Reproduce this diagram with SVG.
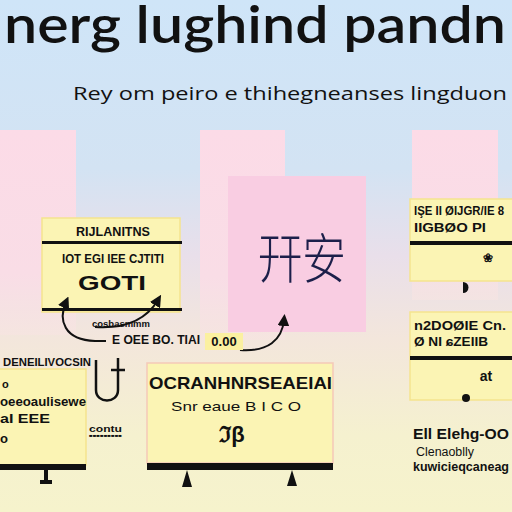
<svg xmlns="http://www.w3.org/2000/svg" width="512" height="512" viewBox="0 0 512 512">
<defs>
<linearGradient id="bg" x1="0" y1="0" x2="0" y2="1">
<stop offset="0" stop-color="#cfe5f8"/>
<stop offset="0.33" stop-color="#d3e3f3"/>
<stop offset="0.5" stop-color="#e9dfea"/>
<stop offset="0.66" stop-color="#f3e6dc"/>
<stop offset="0.85" stop-color="#f5f1cf"/>
<stop offset="1" stop-color="#f6f3cc"/>
</linearGradient>
<linearGradient id="col" x1="0" y1="0" x2="0" y2="1">
<stop offset="0" stop-color="#fcdbe7"/>
<stop offset="0.7" stop-color="#f9dde6"/>
<stop offset="1" stop-color="#f7e4e2" stop-opacity="0.6"/>
</linearGradient>
<marker id="ah" viewBox="0 0 10 10" refX="5" refY="5" markerWidth="6" markerHeight="6" orient="auto-start-reverse">
<path d="M0,0 L10,5 L0,10 z" fill="#111"/>
</marker>
<style>
.t{font-family:"Liberation Sans",Arial,sans-serif;fill:#111;font-weight:bold}
.n{font-family:"Liberation Sans",Arial,sans-serif;fill:#111}
.box{fill:#fbf4b4;stroke:#f5e48e;stroke-width:1.5}
.bar{fill:#111}
.ln{fill:none;stroke:#111;stroke-width:2}
</style>
</defs>
<rect width="512" height="512" fill="url(#bg)"/>
<!-- pink columns -->
<rect x="0" y="130" width="76" height="205" fill="url(#col)"/>
<rect x="200" y="130" width="85" height="210" fill="url(#col)"/>
<rect x="412" y="130" width="86" height="170" fill="url(#col)"/>

<text x="4" y="43" font-family="Lato,'Open Sans',sans-serif" font-size="52" font-weight="600" fill="#111" textLength="502" lengthAdjust="spacingAndGlyphs">nerg lughind pandn</text>
<text x="73" y="100" font-family="'Open Sans',Lato,sans-serif" font-size="19" fill="#111" textLength="434" lengthAdjust="spacingAndGlyphs">Rey om peiro e thihegneanses lingduon</text>

<g id="node-center">
<rect x="228" y="176" width="138" height="156" fill="#f9cde2"/>
<text x="258" y="279" font-family="'Noto Sans CJK SC',sans-serif" font-size="54" font-weight="300" fill="#1c1f4a" textLength="88" lengthAdjust="spacingAndGlyphs">幵安</text>
</g>

<g id="node-left">
<rect class="box" x="42" y="218" width="138" height="94"/>
<rect class="bar" x="42" y="241" width="140" height="3"/>
<rect class="bar" x="42" y="308" width="140" height="3"/>
<text class="t" x="76" y="236" font-size="13" textLength="74" lengthAdjust="spacingAndGlyphs">RIJLANITNS</text>
<text class="t" x="62" y="263" font-size="12" textLength="102" lengthAdjust="spacingAndGlyphs">IOT EGI IEE CJTITI</text>
<text class="t" x="78" y="290" font-size="21" textLength="68" lengthAdjust="spacingAndGlyphs">GOTI</text>
</g>

<g id="node-right-top">
<rect class="box" x="410" y="199" width="104" height="82"/>
<rect class="bar" x="410" y="241" width="104" height="4"/>
<text class="t" x="414" y="215" font-size="13" textLength="90" lengthAdjust="spacingAndGlyphs">IŞE II ØIJGR/IE 8</text>
<text class="t" x="414" y="232" font-size="12" textLength="72" lengthAdjust="spacingAndGlyphs">IIGBØO PI</text>
<text class="t" x="488" y="262" font-size="12" text-anchor="middle">❀</text>
<path d="M463,282 a5,5 0 0 1 0,11 z" fill="#111"/>
</g>

<g id="node-right-mid">
<rect class="box" x="410" y="312" width="104" height="88"/>
<rect class="bar" x="410" y="356" width="104" height="4"/>
<text class="t" x="414" y="330" font-size="13" textLength="92" lengthAdjust="spacingAndGlyphs">n2DOØIE Cn.</text>
<text class="t" x="414" y="346" font-size="12" textLength="74" lengthAdjust="spacingAndGlyphs">Ø NI ɕZEIIB</text>
<text class="t" x="486" y="381" font-size="14" text-anchor="middle">at</text>
<circle cx="466" cy="398" r="4" fill="#111"/>
</g>

<g id="text-right-bottom">
<text class="t" x="413" y="439" font-size="15" textLength="96" lengthAdjust="spacingAndGlyphs">Ell Elehg-OO</text>
<text class="n" x="416" y="456" font-size="12" textLength="58" lengthAdjust="spacingAndGlyphs">Clenaoblly</text>
<text class="t" x="413" y="471" font-size="12" textLength="96" lengthAdjust="spacingAndGlyphs">kuwicieqcaneag</text>
</g>

<g id="node-bottom-left">
<text class="t" x="3" y="366" font-size="11" textLength="88" lengthAdjust="spacingAndGlyphs">DENEILIVOCSIN</text>
<rect class="box" x="-2" y="369" width="88" height="96"/>
<text class="t" x="2" y="388" font-size="11">o</text>
<text class="t" x="0" y="406" font-size="13" textLength="86" lengthAdjust="spacingAndGlyphs">oeeoaulisewe</text>
<text class="t" x="0" y="423" font-size="13" textLength="50" lengthAdjust="spacingAndGlyphs">aI EEE</text>
<text class="t" x="0" y="443" font-size="13">o</text>
<rect class="bar" x="-2" y="464" width="88" height="6"/>
<path d="M46,470 v10 M40,482 h12" stroke="#111" stroke-width="4" fill="none"/>
<text class="t" x="89" y="432" font-size="9" textLength="33" lengthAdjust="spacingAndGlyphs">contu</text>
<text class="n" x="89" y="437" font-size="4" textLength="33" lengthAdjust="spacingAndGlyphs">■■■■■■■■■</text>
</g>

<g id="node-bottom-mid">
<rect class="box" x="147" y="363" width="186" height="100" style="stroke:#f5c9b8"/>
<text class="t" x="149" y="389" font-size="17" textLength="183" lengthAdjust="spacingAndGlyphs">OCRANHNRSEAEIAI</text>
<text class="n" x="171" y="411" font-size="13" textLength="130" lengthAdjust="spacingAndGlyphs">Snr eaue B  I  C O</text>
<text class="t" x="232" y="442" font-size="22" text-anchor="middle">ℑβ</text>
<rect class="bar" x="147" y="463" width="186" height="7"/>
<path d="M187,470 l-5,17 h10 z M292,470 l-5,16 h10 z" fill="#111"/>
</g>

<g id="connectors">
<path class="ln" d="M66,302 C58,320 64,340 95,341 L106,341" marker-start="url(#ah)"/>
<path class="ln" d="M95,327 Q140,330 158,300" marker-end="url(#ah)"/>
<path class="ln" d="M240,350 C268,352 282,340 284,320" marker-end="url(#ah)"/>
<path class="ln" d="M96,360 V390 C96,404 118,404 118,390 V358 M111,370 H125" style="stroke-width:2.5"/>
</g>

<g id="labels">
<text class="t" x="92" y="327" font-size="9" textLength="58" lengthAdjust="spacingAndGlyphs">cosbasmmm</text>
<text class="t" x="112" y="344" font-size="12" textLength="88" lengthAdjust="spacingAndGlyphs">E OEE BO. TIAI</text>
<rect x="205" y="333" width="38" height="17" fill="#fbf0a0"/>
<text class="t" x="224" y="346" font-size="13" text-anchor="middle">0.00</text>
</g>
</svg>
